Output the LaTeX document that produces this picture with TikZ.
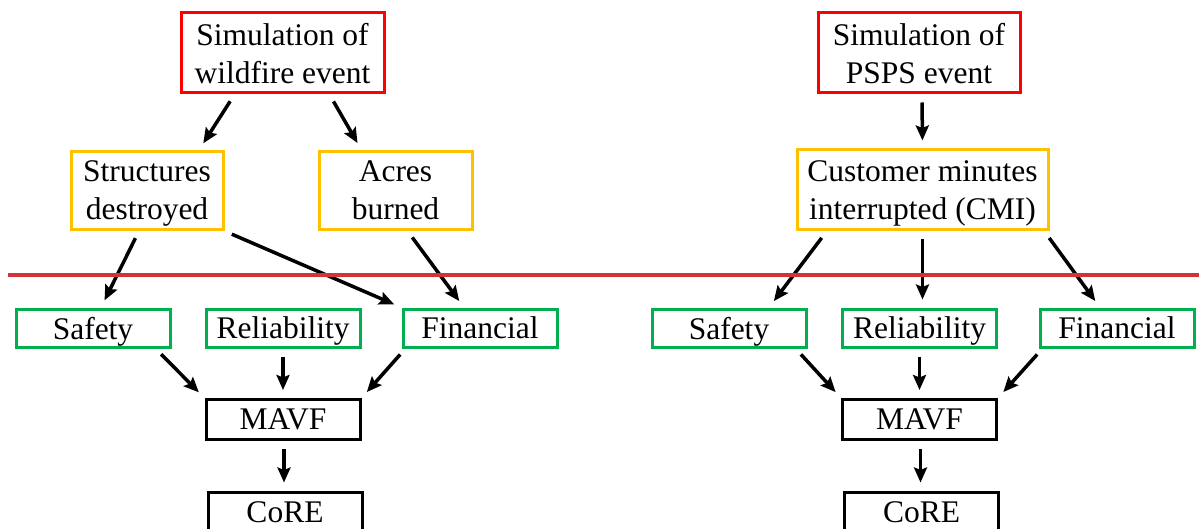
\documentclass[tikz,border=0pt]{standalone}
\usepackage{fontspec}
\setmainfont{Liberation Serif}
\usetikzlibrary{positioning,arrows.meta}
\definecolor{simred}{RGB}{255,0,0}
\definecolor{impactorange}{RGB}{255,192,0}
\definecolor{attrgreen}{RGB}{0,176,80}
\definecolor{divred}{RGB}{209,52,56}

\begin{document}
\begin{tikzpicture}[x=1pt,y=-1pt,
	box/.style={draw, line width=3pt, inner sep=0pt, align=center, text depth=0pt,
		font=\fontsize{31.5}{38}\selectfont},
	simbox/.style={box, draw=simred, minimum height=80pt},
	impbox/.style={box, draw=impactorange, minimum height=78pt},
	attrbox/.style={box, draw=attrgreen, minimum width=154pt, minimum height=38pt},
	outbox/.style={box, draw=black, minimum width=154pt, minimum height=40pt},
	arr/.style={-{Stealth[length=15pt,width=13pt,inset=2.5pt]}, line width=3.5pt,
		shorten <=8pt, shorten >=8pt}]
	\useasboundingbox (0,0) rectangle (1199,529);
	\clip (0,0) rectangle (1199,529);
	% wildfire side
	\node[simbox, minimum width=203pt] (wfsim) at (282.5,53) {Simulation of\\wildfire event};
	\node[impbox, minimum width=152pt] (struct) at (147,190.5) {Structures\\destroyed};
	\node[impbox, minimum width=153pt] (acres) at (395.5,190.5) {Acres\\burned};
	\node[attrbox] (lsafe) at (93,328) {Safety};
	\node[attrbox] (lrel) at (283,328) {Reliability};
	\node[attrbox] (lfin) at (480,328) {Financial};
	\node[outbox] (lmavf) at (283,419.5) {MAVF};
	\node[outbox] (lcore) at (285,512) {CoRE};
	% PSPS side
	\node[simbox, minimum width=202pt] (pspssim) at (919,53) {Simulation of\\PSPS event};
	\node[impbox, minimum width=251pt, minimum height=80pt] (cmi) at (922.5,190) {Customer minutes\\interrupted (CMI)};
	\node[attrbox] (rsafe) at (729,328) {Safety};
	\node[attrbox] (rrel) at (919.5,328) {Reliability};
	\node[attrbox] (rfin) at (1117,328) {Financial};
	\node[outbox] (rmavf) at (919.5,419.5) {MAVF};
	\node[outbox] (rcore) at (921.5,512) {CoRE};
	% connectors, wildfire
	\draw[arr] ([xshift=-48pt]wfsim.south) -- ([xshift=52pt]struct.north);
	\draw[arr] ([xshift=47pt]wfsim.south) -- ([xshift=-34pt]acres.north);
	\draw[arr] ([xshift=-8pt]struct.south) -- ([xshift=8pt]lsafe.north);
	\draw[arr] (struct.south east) -- (lfin.north west);
	\draw[arr] ([xshift=12pt]acres.south) -- ([xshift=-16pt]lfin.north);
	\draw[arr] ([xshift=-16pt]lsafe.south east) -- (lmavf.north west);
	\draw[arr] (lrel.south) -- (lmavf.north);
	\draw[arr] ([xshift=4pt]lfin.south west) -- (lmavf.north east);
	\draw[arr] ([xshift=1pt]lmavf.south) -- ([xshift=1pt]lmavf.south |- lcore.north);
	% connectors, PSPS
	\draw[arr] ([xshift=3pt]pspssim.south) -- (cmi.north);
	\draw[arr] ([xshift=-96pt]cmi.south) -- ([xshift=40pt]rsafe.north);
	\draw[arr] (cmi.south) -- (cmi.south |- rrel.north);
	\draw[arr] ([xshift=122pt]cmi.south) -- ([xshift=-17pt]rfin.north);
	\draw[arr] ([xshift=-12pt]rsafe.south east) -- (rmavf.north west);
	\draw[arr] (rrel.south) -- (rmavf.north);
	\draw[arr] ([xshift=4pt]rfin.south west) -- (rmavf.north east);
	\draw[arr] ([xshift=1pt]rmavf.south) -- ([xshift=1pt]rmavf.south |- rcore.north);
	% divider
	\draw[divred, line width=4pt] (8,275) -- (1199,275);
\end{tikzpicture}
\end{document}
